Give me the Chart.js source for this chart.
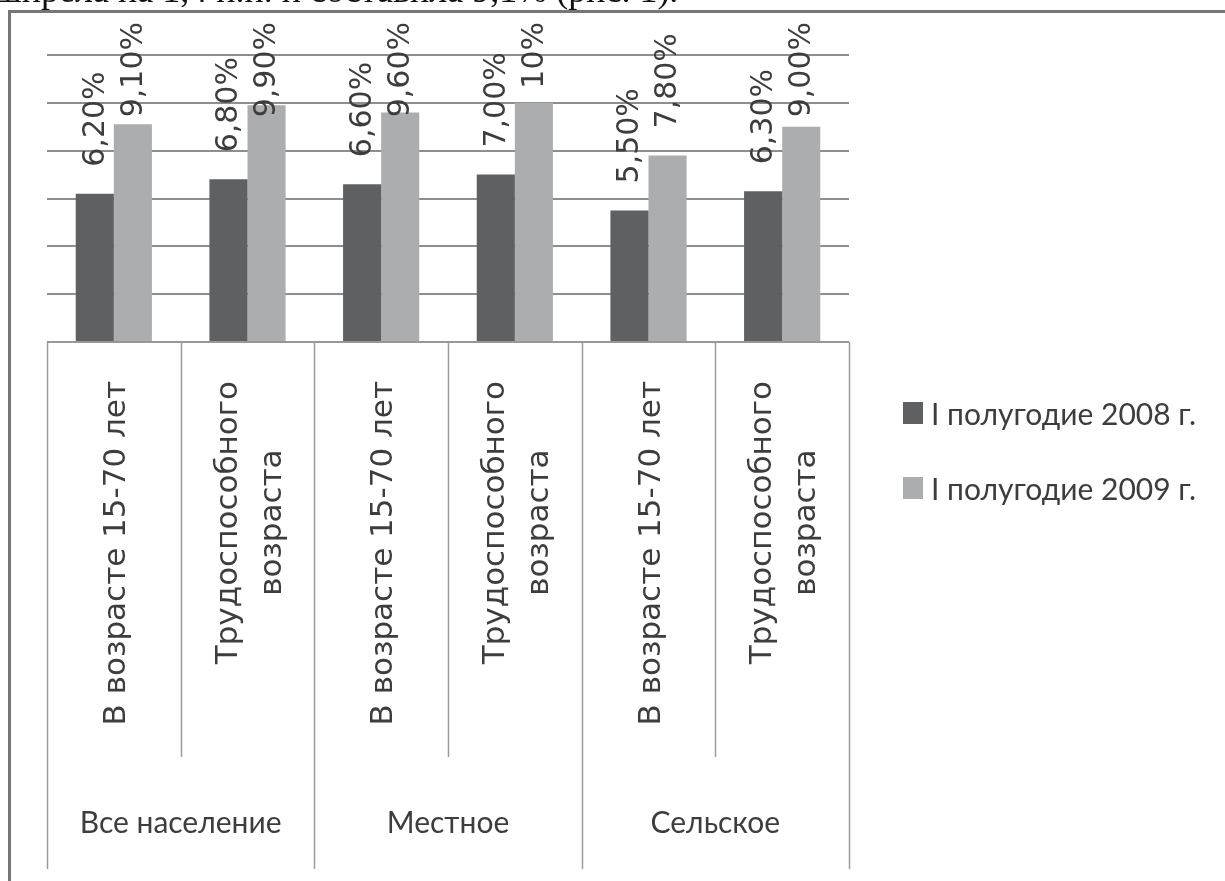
<!DOCTYPE html>
<html>
<head>
<meta charset="utf-8">
<script src="https://cdn.jsdelivr.net/npm/chart.js@4.4.1/dist/chart.umd.min.js"></script>
<style>
    html, body { margin: 0; padding: 0; background: #ffffff; }
    #wrap { width: 1225px; height: 881px; position: relative; }
</style>
</head>
<body>
<div id="wrap"><canvas id="chart" width="1225" height="881"></canvas></div>
<script>
// подписи категорий (по две строки там, где текст переносится)
const subLabels = [
    ['В возрасте 15-70 лет'],
    ['Трудоспособного', 'возраста'],
    ['В возрасте 15-70 лет'],
    ['Трудоспособного', 'возраста'],
    ['В возрасте 15-70 лет'],
    ['Трудоспособного', 'возраста']
];
const groupLabels = ['Все население', 'Местное', 'Сельское'];

const seriesNames = ['I полугодие 2008 г.', 'I полугодие 2009 г.'];
const values2008 = [6.2, 6.8, 6.6, 7.0, 5.5, 6.3];
const values2009 = [9.1, 9.9, 9.6, 10.0, 7.8, 9.0];
const text2008 = ['6,20%', '6,80%', '6,60%', '7,00%', '5,50%', '6,30%'];
const text2009 = ['9,10%', '9,90%', '9,60%', '10%', '7,80%', '9,00%'];

const yTicks = [0, 2, 4, 6, 8, 10, 12];

const colors = {
    dark: '#5f6062',
    light: '#abadaf',
    grid: '#8e8e8e',
    table: '#9c9c9c',
    text: '#3d3d3d',
    frame: '#767676'
};

const decor = {
    id: 'decor',
    afterDraw(chart) {
        const ctx = chart.ctx;
        const area = chart.chartArea;
        const xs = chart.scales.x;
        const ys = chart.scales.y;
        const half = (xs.getPixelForValue(1) - xs.getPixelForValue(0)) / 2;
        const axisY = ys.getPixelForValue(0);

        ctx.save();

        // обрывок текста документа над рисунком
        ctx.fillStyle = '#111';
        ctx.font = '36px "Liberation Serif", serif';
        ctx.textBaseline = 'alphabetic';
        ctx.textAlign = 'left';
        ctx.fillText('ширела на 1,4 п.п. и составила 9,1% (рис. 1).', -6, 2);

        // рамка
        ctx.strokeStyle = colors.frame;
        ctx.lineWidth = 3;
        ctx.beginPath();
        ctx.moveTo(9.5, 881);
        ctx.lineTo(9.5, 11.5);
        ctx.lineTo(1225, 11.5);
        ctx.stroke();

        // подписи значений
        ctx.fillStyle = colors.text;
        ctx.font = '30px "DejaVu Sans", sans-serif';
        ctx.textBaseline = 'middle';
        ctx.textAlign = 'left';
        const texts = [text2008, text2009];
        chart.data.datasets.forEach((ds, di) => {
            chart.getDatasetMeta(di).data.forEach((bar, i) => {
                const t = texts[di][i];
                const w = ctx.measureText(t).width;
                const start = Math.max(bar.y - 27, 22 + w);
                ctx.save();
                ctx.translate(bar.x, start);
                ctx.rotate(-Math.PI / 2);
                ctx.fillText(t, 0, 1);
                ctx.restore();
            });
        });

        // таблица категорий под осью
        ctx.strokeStyle = colors.table;
        ctx.lineWidth = 1.5;
        ctx.beginPath();
        ctx.moveTo(area.left, axisY);
        ctx.lineTo(area.right, axisY);
        for (let i = 0; i <= subLabels.length; i++) {
            const x = Math.round(xs.getPixelForValue(i) - half) + 0.5;
            ctx.moveTo(x, axisY);
            ctx.lineTo(x, i % 2 === 0 ? 869 : 757);
        }
        ctx.stroke();

        ctx.font = '31px "DejaVu Sans", sans-serif';
        ctx.textAlign = 'center';
        subLabels.forEach((lines, i) => {
            const cx = xs.getPixelForValue(i);
            const blockW = Math.max(...lines.map(l => ctx.measureText(l).width));
            lines.forEach((line, li) => {
                const off = (li - (lines.length - 1) / 2) * 44;
                ctx.save();
                ctx.translate(cx + off + 3, 381 + blockW / 2);
                ctx.rotate(-Math.PI / 2);
                ctx.fillText(line, 0, 0);
                ctx.restore();
            });
        });

        ctx.font = '30px Lato, sans-serif';
        ctx.textBaseline = 'alphabetic';
        groupLabels.forEach((g, gi) => {
            const cx = (xs.getPixelForValue(gi * 2) + xs.getPixelForValue(gi * 2 + 1)) / 2;
            ctx.fillText(g, cx, 833);
        });

        // легенда
        ctx.textAlign = 'left';
        ctx.font = '30px Lato, sans-serif';
        chart.data.datasets.forEach((ds, di) => {
            const y = 402 + di * 75;
            ctx.fillStyle = ds.backgroundColor;
            ctx.fillRect(903, y, 20, 22);
            ctx.fillStyle = colors.text;
            ctx.fillText(ds.label, 931, y + 23);
        });

        ctx.restore();
    }
};

new Chart(document.getElementById('chart'), {
    type: 'bar',
    data: {
        labels: subLabels.map(l => l.join(' ')),
        datasets: [
            { label: seriesNames[0], data: values2008, backgroundColor: colors.dark },
            { label: seriesNames[1], data: values2009, backgroundColor: colors.light }
        ]
    },
    options: {
        responsive: false,
        animation: false,
        layout: { padding: { left: 47, top: 55, right: 376, bottom: 539 } },
        datasets: { bar: { categoryPercentage: 0.57, barPercentage: 1 } },
        plugins: { legend: { display: false }, tooltip: { enabled: false } },
        scales: {
            x: { display: false },
            y: {
                min: yTicks[0],
                max: yTicks[yTicks.length - 1],
                afterBuildTicks: (scale) => { scale.ticks = yTicks.map(v => ({ value: v })); },
                ticks: { display: false },
                border: { display: false },
                grid: { color: colors.grid, lineWidth: 2, drawTicks: false }
            }
        }
    },
    plugins: [decor]
});
</script>
</body>
</html>
